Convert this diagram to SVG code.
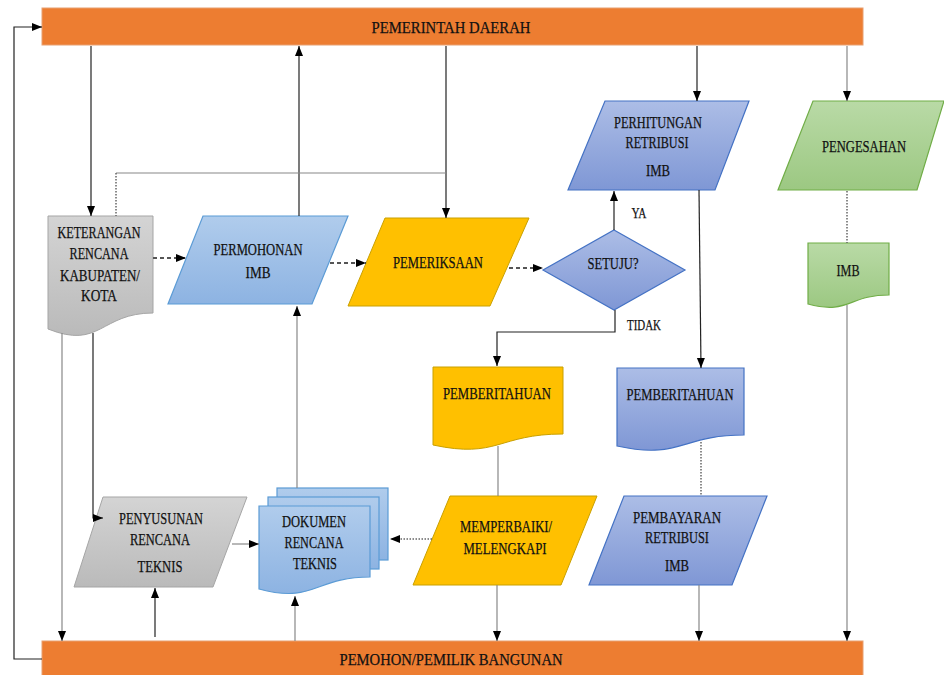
<svg xmlns="http://www.w3.org/2000/svg" width="944" height="675" viewBox="0 0 944 675">
<defs>
<linearGradient id="gGray" x1="0" y1="0" x2="0" y2="1"><stop offset="0" stop-color="#D4D4D4"/><stop offset="1" stop-color="#BABABA"/></linearGradient>
<linearGradient id="gLBlue" x1="0" y1="0" x2="0" y2="1"><stop offset="0" stop-color="#B0CCEC"/><stop offset="1" stop-color="#8DB3E2"/></linearGradient>
<linearGradient id="gBlue" x1="0" y1="0" x2="0" y2="1"><stop offset="0" stop-color="#ACBDE6"/><stop offset="1" stop-color="#7F97D5"/></linearGradient>
<linearGradient id="gGreen" x1="0" y1="0" x2="0" y2="1"><stop offset="0" stop-color="#B9DAA6"/><stop offset="1" stop-color="#9CC882"/></linearGradient>
<marker id="ar" markerUnits="userSpaceOnUse" markerWidth="10" markerHeight="10" viewBox="0 0 10 10" refX="10" refY="5" orient="auto"><path d="M0,1 L10,5 L0,9 Z" fill="#000"/></marker>
</defs>
<style>
text{font-family:"Liberation Serif","Times New Roman",serif;font-size:17px;fill:#111;stroke:#111;stroke-width:0.25;text-anchor:middle}
.bar{fill:#ED7D31;stroke:#E8A070;stroke-width:1}
.gray{fill:url(#gGray);stroke:#A5A5A5;stroke-width:1}
.lblue{fill:url(#gLBlue);stroke:#5B9BD5;stroke-width:1.2}
.blue{fill:url(#gBlue);stroke:#4472C4;stroke-width:1.2}
.green{fill:url(#gGreen);stroke:#70AD47;stroke-width:1.2}
.gold{fill:#FFC000;stroke:#C9A000;stroke-width:1}
.c{fill:none;stroke:#222;stroke-width:1.2}
.cg{fill:none;stroke:#888;stroke-width:1.2}
.dash{fill:none;stroke:#555;stroke-width:2;stroke-dasharray:4,3}
.dot{fill:none;stroke:#666;stroke-width:1.5;stroke-dasharray:1.5,1.5}
.lbl{font-size:15px}
</style>

<g id="pemerintah">
<rect class="bar" x="42" y="8" width="821" height="37"/>
<text x="451" y="33" textLength="159" lengthAdjust="spacingAndGlyphs">PEMERINTAH DAERAH</text>
</g>
<g id="pemohon">
<rect class="bar" x="42" y="641" width="821" height="40"/>
<text x="451" y="665" textLength="223" lengthAdjust="spacingAndGlyphs">PEMOHON/PEMILIK BANGUNAN</text>
</g>

<g id="keterangan">
<path class="gray" d="M48,216 H153 V313 C100.5,313 100.5,350 48,329 Z"/>
<text x="99" y="238" textLength="83" lengthAdjust="spacingAndGlyphs">KETERANGAN</text>
<text x="99" y="259" textLength="59" lengthAdjust="spacingAndGlyphs">RENCANA</text>
<text x="100" y="281" textLength="80" lengthAdjust="spacingAndGlyphs">KABUPATEN/</text>
<text x="99" y="301" textLength="36" lengthAdjust="spacingAndGlyphs">KOTA</text>
</g>

<g id="permohonan">
<path class="lblue" d="M203,216 H348 L312,304 H168 Z"/>
<text x="258" y="255" textLength="89" lengthAdjust="spacingAndGlyphs">PERMOHONAN</text>
<text x="258" y="278" textLength="25" lengthAdjust="spacingAndGlyphs">IMB</text>
</g>

<g id="pemeriksaan">
<path class="gold" d="M385,218 H529 L490,306 H348 Z"/>
<text x="438" y="268" textLength="90" lengthAdjust="spacingAndGlyphs">PEMERIKSAAN</text>
</g>

<g id="setuju">
<path class="blue" d="M614,230 L685,270 L614,310 L543,270 Z"/>
<text x="613" y="269" textLength="51" lengthAdjust="spacingAndGlyphs">SETUJU?</text>
</g>

<g id="perhitungan">
<path class="blue" d="M605,101 H749 L715,190 H568 Z"/>
<text x="658" y="128" textLength="88" lengthAdjust="spacingAndGlyphs">PERHITUNGAN</text>
<text x="657" y="148" textLength="63" lengthAdjust="spacingAndGlyphs">RETRIBUSI</text>
<text x="658" y="176" textLength="24" lengthAdjust="spacingAndGlyphs">IMB</text>
</g>

<g id="pengesahan">
<path class="green" d="M813,101 H944 L917,190 H778 Z"/>
<text x="864" y="152" textLength="84" lengthAdjust="spacingAndGlyphs">PENGESAHAN</text>
</g>

<g id="imb">
<path class="green" d="M808,243 H889 V295 C848.5,295 848.5,315 808,304 Z"/>
<text x="848" y="276" textLength="23" lengthAdjust="spacingAndGlyphs">IMB</text>
</g>

<g id="pemberitahuan-kuning">
<path class="gold" d="M433,367 H563 V434 C498,434 498,459 433,445 Z"/>
<text x="497" y="399" textLength="108" lengthAdjust="spacingAndGlyphs">PEMBERITAHUAN</text>
</g>

<g id="pemberitahuan-biru">
<path class="blue" d="M617,368 H744 V435 C680.5,435 680.5,460 617,446 Z"/>
<text x="680" y="400" textLength="107" lengthAdjust="spacingAndGlyphs">PEMBERITAHUAN</text>
</g>

<g id="memperbaiki">
<path class="gold" d="M450,496 H597 L561,585 H413 Z"/>
<text x="506" y="532" textLength="92" lengthAdjust="spacingAndGlyphs">MEMPERBAIKI/</text>
<text x="505" y="554" textLength="83" lengthAdjust="spacingAndGlyphs">MELENGKAPI</text>
</g>

<g id="pembayaran">
<path class="blue" d="M624,496 H767 L732,585 H589 Z"/>
<text x="677" y="523" textLength="88" lengthAdjust="spacingAndGlyphs">PEMBAYARAN</text>
<text x="677" y="543" textLength="64" lengthAdjust="spacingAndGlyphs">RETRIBUSI</text>
<text x="677" y="571" textLength="24" lengthAdjust="spacingAndGlyphs">IMB</text>
</g>

<g id="penyusunan">
<path class="gray" d="M103,497 H247 L213,587 H74 Z"/>
<text x="161" y="524" textLength="84" lengthAdjust="spacingAndGlyphs">PENYUSUNAN</text>
<text x="160" y="545" textLength="60" lengthAdjust="spacingAndGlyphs">RENCANA</text>
<text x="160" y="572" textLength="45" lengthAdjust="spacingAndGlyphs">TEKNIS</text>
</g>

<g id="dokumen">
<rect class="lblue" x="277" y="488" width="111" height="72"/>
<rect class="lblue" x="268" y="497" width="111" height="72"/>
<path class="lblue" d="M259,506 H370 V577 C314.5,577 314.5,604 259,589 Z"/>
<text x="314" y="527" textLength="64" lengthAdjust="spacingAndGlyphs">DOKUMEN</text>
<text x="314" y="548" textLength="59" lengthAdjust="spacingAndGlyphs">RENCANA</text>
<text x="315" y="569" textLength="44" lengthAdjust="spacingAndGlyphs">TEKNIS</text>
</g>

<g id="connectors">
<path class="c" d="M42,659 H14 V27 H42" marker-end="url(#ar)"/>
<path class="c" d="M91,46 V216" marker-end="url(#ar)"/>
<path class="c" d="M299,216 V46" marker-end="url(#ar)"/>
<path class="c" d="M446,46 V218" marker-end="url(#ar)"/>
<path class="cg" d="M446,173 H116"/>
<path class="dot" d="M116,173 V216"/>
<path class="c" d="M697,46 V101" marker-end="url(#ar)"/>
<path class="cg" d="M847,46 V101" marker-end="url(#ar)"/>
<path class="dash" d="M153,258 H186" marker-end="url(#ar)"/>
<path class="dash" d="M330,263 H366" marker-end="url(#ar)"/>
<path class="dash" d="M509,268 H543" marker-end="url(#ar)"/>
<path class="c" d="M614,230 V191" marker-end="url(#ar)"/>
<text class="lbl" x="639" y="218" textLength="15" lengthAdjust="spacingAndGlyphs">YA</text>
<path class="c" d="M615,310 V332 H497 V366" marker-end="url(#ar)"/>
<text class="lbl" x="644" y="330" textLength="34" lengthAdjust="spacingAndGlyphs">TIDAK</text>
<path class="c" d="M699,190 L701,368" marker-end="url(#ar)"/>
<path class="dot" d="M847,191 V243"/>
<path class="cg" d="M847,305 V641" marker-end="url(#ar)"/>
<path class="cg" d="M498,446 V496"/>
<path class="cg" d="M497,585 V641" marker-end="url(#ar)"/>
<path class="dot" d="M701,442 V496"/>
<path class="cg" d="M699,585 V641" marker-end="url(#ar)"/>
<path class="dot" d="M432,539 H390" marker-end="url(#ar)"/>
<path class="cg" d="M232,544 H259" marker-end="url(#ar)"/>
<path class="cg" d="M297,488 V306" marker-end="url(#ar)"/>
<path class="cg" d="M295,641 V596" marker-end="url(#ar)"/>
<path class="c" d="M155,637 V588" marker-end="url(#ar)"/>
<path class="c" d="M93,333 V518 H103" marker-end="url(#ar)"/>
<path class="cg" d="M62,333 V641" marker-end="url(#ar)"/>
</g>
</svg>
